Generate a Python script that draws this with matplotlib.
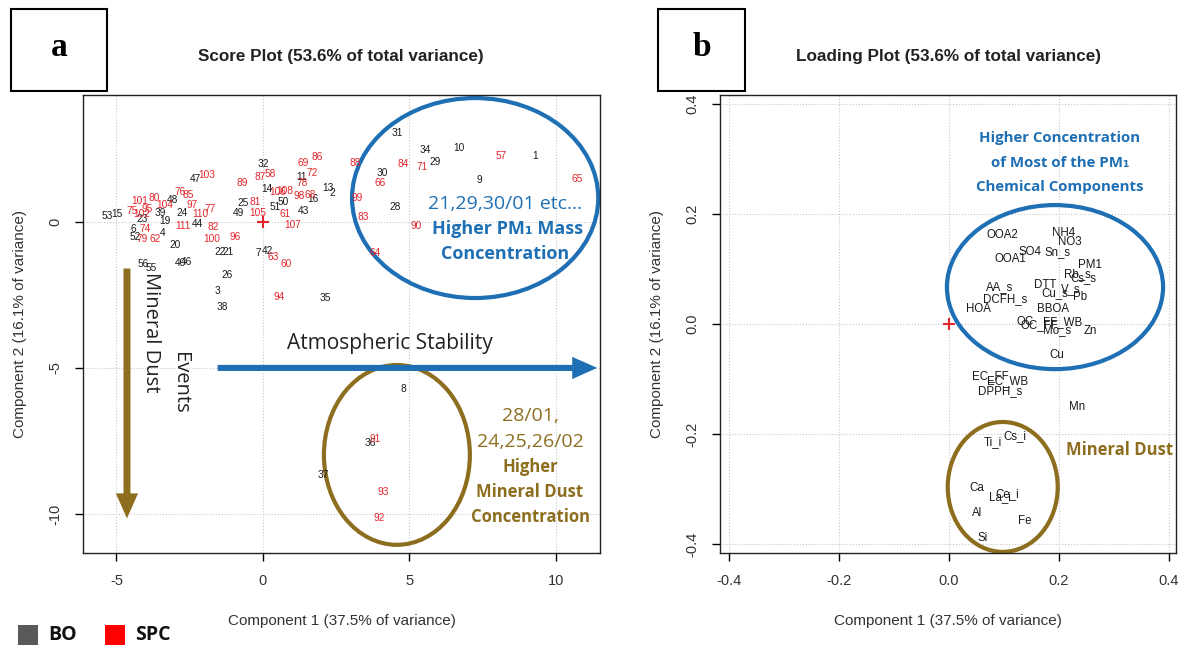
import matplotlib
matplotlib.use("Agg")
import matplotlib.pyplot as plt
from matplotlib.patches import Ellipse, Rectangle, FancyArrowPatch

W, H = 1183, 650

# ---- score plot data (panel a) ----
bo_labels = ["1", "2", "3", "4", "6", "7", "8", "9", "10", "11", "13", "14", "15", "16",
             "19", "20", "21", "22", "23", "24", "25", "26", "28", "29", "30", "31",
             "32", "34", "35", "36", "37", "38", "39", "40", "42", "43", "44", "46",
             "47", "48", "49", "50", "51", "52", "53", "55", "56"]
bo_x = [9.28, 2.35, -1.57, -3.41, -4.42, -0.17, 4.78, 7.37, 6.69, 1.33, 2.22, 0.14, -4.98, 1.71,
        -3.34, -3.0, -1.19, -1.47, -4.13, -2.76, -0.68, -1.23, 4.5, 5.87, 4.06, 4.57,
        0.0, 5.53, 2.12, 3.65, 2.05, -1.37, -3.5, -2.83, 0.14, 1.4, -2.25, -2.6,
        -2.32, -3.07, -0.82, 0.68, 0.41, -4.37, -5.32, -3.8, -4.1]
bo_y = [2.26, 1.0, -2.36, -0.38, -0.24, -1.06, -5.72, 1.44, 2.53, 1.54, 1.16, 1.13, 0.28, 0.79,
        0.03, -0.79, -1.03, -1.03, 0.1, 0.3, 0.65, -1.82, 0.51, 2.05, 1.68, 3.05,
        1.99, 2.47, -2.6, -7.57, -8.66, -2.91, 0.3, -1.4, -0.99, 0.38, -0.07, -1.37,
        1.47, 0.75, 0.3, 0.68, 0.51, -0.5, 0.2, -1.58, -1.44]

spc_labels = ["57", "58", "60", "61", "62", "63", "64", "65", "66", "68", "69", "71", "72",
              "74", "75", "76", "77", "78", "79", "80", "81", "82", "83", "84", "85", "86",
              "87", "88", "89", "90", "91", "92", "93", "94", "95", "96", "97", "98", "99",
              "100", "101", "102", "103", "104", "105", "106", "107", "108", "110", "111"]
spc_x = [8.12, 0.24, 0.78, 0.75, -3.69, 0.34, 3.82, 10.72, 4.0, 1.6, 1.37, 5.43, 1.67,
         -4.03, -4.47, -2.83, -1.81, 1.33, -4.13, -3.7, -0.27, -1.71, 3.41, 4.78, -2.56, 1.84,
         -0.1, 3.14, -0.72, 5.22, 3.82, 3.96, 4.1, 0.55, -3.96, -0.96, -2.42, 1.23, 3.2,
         -1.74, -4.2, -4.13, -1.91, -3.34, -0.17, 0.5, 1.03, 0.75, -2.15, -2.73]
spc_y = [2.26, 1.64, -1.44, 0.27, -0.58, -1.2, -1.06, 1.47, 1.34, 0.92, 2.02, 1.88, 1.68,
         -0.24, 0.38, 1.03, 0.44, 1.34, -0.58, 0.82, 0.68, -0.17, 0.17, 1.99, 0.92, 2.23,
         1.54, 2.02, 1.34, -0.14, -7.43, -10.14, -9.25, -2.57, 0.44, -0.51, 0.58, 0.89, 0.82,
         -0.58, 0.72, 0.27, 1.61, 0.58, 0.3, 1.03, -0.1, 1.06, 0.27, -0.14]

# ---- loading plot data (panel b) ----
load_names = ["OOA2", "NH4", "NO3", "SO4", "Sn_s", "OOA1", "PM1", "Rb_s", "Cs_s", "DTT",
              "V_s", "Cu_s", "Pb", "AA_s", "DCFH_s", "HOA", "BBOA", "OC", "OC_FF", "FF_WB",
              "Mo_s", "Zn", "Cu", "EC_FF", "EC_WB", "DPPH_s", "Mn", "Cs_i", "Ti_i", "Ca",
              "Ce_i", "La_i", "Al", "Fe", "Si"]
load_x = [0.098, 0.209, 0.22, 0.147, 0.198, 0.111, 0.256, 0.233, 0.244, 0.175,
          0.222, 0.193, 0.238, 0.093, 0.102, 0.053, 0.189, 0.138, 0.165, 0.207,
          0.196, 0.258, 0.196, 0.075, 0.107, 0.093, 0.233, 0.12, 0.08, 0.051,
          0.107, 0.093, 0.051, 0.138, 0.062]
load_y = [0.162, 0.166, 0.149, 0.131, 0.131, 0.118, 0.107, 0.091, 0.084, 0.071,
          0.064, 0.056, 0.049, 0.067, 0.045, 0.027, 0.027, 0.004, -0.002, 0.004,
          -0.011, -0.013, -0.056, -0.095, -0.104, -0.122, -0.151, -0.204, -0.214, -0.298,
          -0.309, -0.314, -0.344, -0.358, -0.389]

BLACK = "#1a1a1a"
RED = "#e3262b"
BLUE = "#1f6fb4"
BROWN = "#8d6e1f"
SANS = ["Liberation Sans", "DejaVu Sans"]
DECO = ["Open Sans", "DejaVu Sans"]


def fx(px):
    return px / W


def fy(py):
    return 1 - py / H


def r_style(ax, xticks, yticks, xfmt, yfmt):
    ax.set_xticks(xticks)
    ax.set_yticks(yticks)
    ax.set_xticklabels([xfmt(v) for v in xticks], family=SANS, fontsize=10.5, color="#333333")
    ax.set_yticklabels([yfmt(v) for v in yticks], family=SANS, fontsize=10.5, color="#333333",
                       rotation=90, va="center")
    ax.tick_params(direction="out", length=6, width=1, pad=9)
    ax.grid(True, ls=":", color="#c8c8c8", lw=0.8)
    ax.set_axisbelow(True)
    for s in ax.spines.values():
        s.set_linewidth(1.0)
        s.set_color("#222222")


fig = plt.figure(figsize=(W / 100, H / 100), dpi=100)

# ================= panel a : score plot =================
axa = fig.add_axes([fx(83), fy(553), fx(600) - fx(83), fy(95) - fy(553)])
axa.set_xlim(-6.14, 11.5)
axa.set_ylim(-11.34, 4.35)
r_style(axa, [-5, 0, 5, 10], [-10, -5, 0], lambda v: f"{v:d}", lambda v: f"{v:d}")

for lab, x, y in zip(bo_labels, bo_x, bo_y):
    axa.text(x, y, lab, ha="center", va="center", fontsize=7.3, color=BLACK, family=SANS)
for lab, x, y in zip(spc_labels, spc_x, spc_y):
    axa.text(x, y, lab, ha="center", va="center", fontsize=7.3, color=RED, family=SANS)
axa.plot([0], [0], marker="+", color=RED, ms=8, mew=1.5)

axa.add_patch(Ellipse((7.24, 0.82), 8.4, 6.85, fill=False, ec=BLUE, lw=3, clip_on=False))
axa.add_patch(Ellipse((4.57, -7.98), 4.98, 6.16, fill=False, ec=BROWN, lw=3, clip_on=False))

axa.add_patch(FancyArrowPatch((-4.64, -1.5), (-4.64, -10.25), clip_on=False,
                              arrowstyle="simple,head_length=0.9,head_width=0.8,tail_width=0.25",
                              mutation_scale=20, color=BROWN, lw=0))
axa.add_patch(FancyArrowPatch((-1.64, -5.0), (11.5, -5.0), clip_on=False,
                              arrowstyle="simple,head_length=0.9,head_width=0.8,tail_width=0.22",
                              mutation_scale=20, color=BLUE, lw=0))

fig.text(fx(341), fy(57), "Score Plot (53.6% of total variance)", ha="center", va="center",
         fontsize=12.3, fontweight="bold", family=SANS, color="#222222")
axa.set_xlabel("Component 1 (37.5% of variance)", family=SANS, fontsize=11,
               color="#333333", labelpad=19)
axa.set_ylabel("Component 2 (16.1% of variance)", family=SANS, fontsize=11,
               color="#333333", labelpad=15)

fig.text(fx(151), fy(332), "Mineral Dust", rotation=270, ha="center", va="center",
         fontsize=14.5, family=DECO, color="#222222")
fig.text(fx(180), fy(383), "Events", rotation=270, ha="center", va="center",
         fontsize=14.5, family=DECO, color="#222222")
fig.text(fx(390), fy(343), "Atmospheric Stability", ha="center", va="center",
         fontsize=15, family=DECO, color="#222222")

fig.text(fx(505), fy(204), "21,29,30/01 etc\u2026", ha="center", va="center",
         fontsize=14, family=DECO, color=BLUE)
fig.text(fx(507), fy(229), "Higher PM\u2081 Mass", ha="center", va="center",
         fontsize=13, fontweight="bold", family=DECO, color=BLUE)
fig.text(fx(505), fy(254), "Concentration", ha="center", va="center",
         fontsize=13, fontweight="bold", family=DECO, color=BLUE)

for txt, py, bold in [("28/01,", 416, False), ("24,25,26/02", 442, False),
                      ("Higher", 467, True), ("Mineral Dust", 492, True),
                      ("Concentration", 517, True)]:
    fig.text(fx(530), fy(py), txt, ha="center", va="center", fontsize=14 if not bold else 12,
             fontweight="bold" if bold else "normal", family=DECO, color=BROWN)

# ================= panel b : loading plot =================
axb = fig.add_axes([fx(720), fy(553), fx(1176) - fx(720), fy(95) - fy(553)])
axb.set_xlim(-0.416, 0.413)
axb.set_ylim(-0.416, 0.416)
ticks_b = [-0.4, -0.2, 0.0, 0.2, 0.4]
r_style(axb, ticks_b, ticks_b, lambda v: f"{v:.1f}", lambda v: f"{v:.1f}")

for name, x, y in zip(load_names, load_x, load_y):
    axb.text(x, y, name, ha="center", va="center", fontsize=8.3, color=BLACK, family=SANS)
axb.plot([0], [0], marker="+", color=RED, ms=8, mew=1.5)

axb.add_patch(Ellipse((0.193, 0.067), 0.393, 0.298, fill=False, ec=BLUE, lw=3, clip_on=False))
axb.add_patch(Ellipse((0.098, -0.296), 0.2, 0.236, fill=False, ec=BROWN, lw=3, clip_on=False))

fig.text(fx(948), fy(57), "Loading Plot (53.6% of total variance)", ha="center", va="center",
         fontsize=12.3, fontweight="bold", family=SANS, color="#222222")
axb.set_xlabel("Component 1 (37.5% of variance)", family=SANS, fontsize=11,
               color="#333333", labelpad=19)
axb.set_ylabel("Component 2 (16.1% of variance)", family=SANS, fontsize=11,
               color="#333333", labelpad=15)

for txt, py in [("Higher Concentration", 138), ("of Most of the PM\u2081", 163),
                ("Chemical Components", 187)]:
    fig.text(fx(1060), fy(py), txt, ha="center", va="center", fontsize=10.8,
             fontweight="bold", family=DECO, color=BLUE)
fig.text(fx(1120), fy(450), "Mineral Dust", ha="center", va="center", fontsize=12,
         fontweight="bold", family=DECO, color=BROWN)

# ---- panel letters ----
for x0, x1, letter in [(11, 107, "a"), (658, 745, "b")]:
    fig.patches.append(Rectangle((fx(x0), fy(91)), fx(x1) - fx(x0), fy(9) - fy(91),
                                 transform=fig.transFigure, fill=False, ec="black", lw=1.5))
    fig.text(fx((x0 + x1) / 2), fy(47), letter, ha="center", va="center", fontsize=24,
             fontweight="bold", family=["Liberation Serif", "DejaVu Serif"])

# ---- group legend ----
for x0, col, lab, tx in [(18, "#595959", "BO", 48), (105, "#ff0000", "SPC", 135)]:
    fig.patches.append(Rectangle((fx(x0), fy(645)), fx(20), 20 / H,
                                 transform=fig.transFigure, color=col, lw=0))
    fig.text(fx(tx), fy(635), lab, ha="left", va="center", fontsize=14, fontweight="bold",
             family=DECO, color="#111111")

fig.savefig("out.png", dpi=100)
